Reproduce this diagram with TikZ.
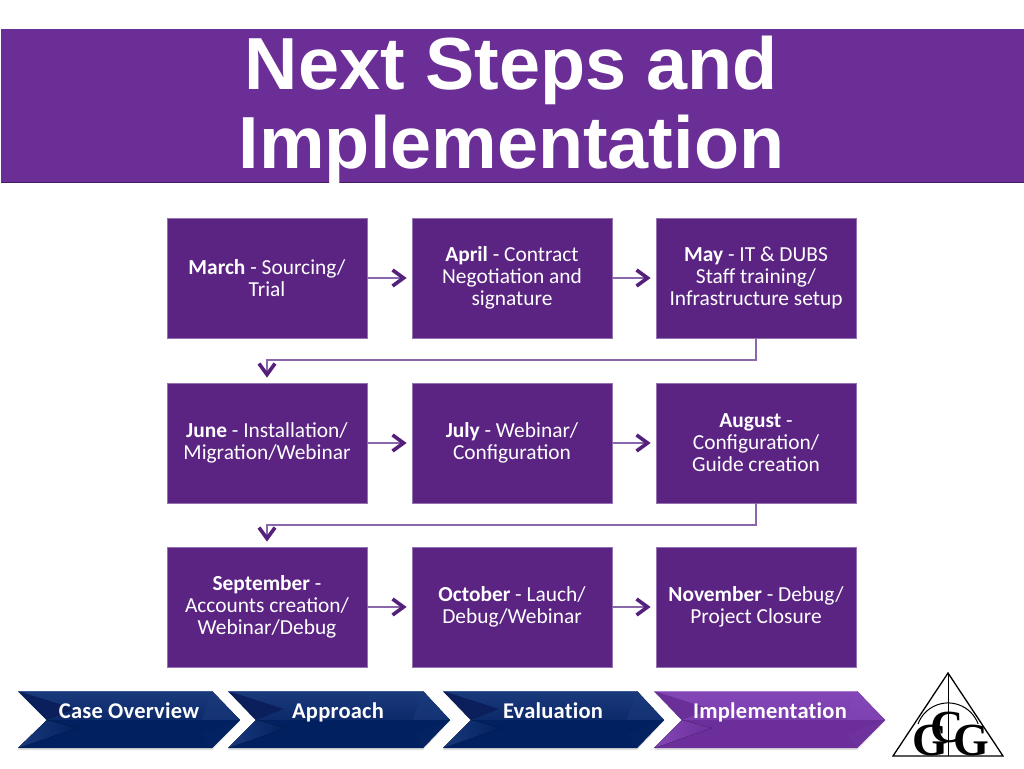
\documentclass[tikz,border=0pt]{standalone}
\usepackage{fontspec}
\setmainfont{Carlito}
\newfontfamily\titlefont{Liberation Sans}
\newfontfamily\logofont{Liberation Serif}
\newfontfamily\navfont[LetterSpace=1,Ligatures=NoCommon]{Carlito}
\usetikzlibrary{arrows.meta,calc}
\definecolor{band}{HTML}{6B2D96}
\definecolor{boxfill}{HTML}{5B2483}
\definecolor{boxline}{HTML}{9272B0}
\definecolor{linkc}{HTML}{8A66AB}
\definecolor{tipc}{HTML}{54207C}
\definecolor{navA}{HTML}{3A5A98}
\definecolor{navB}{HTML}{1B3A7C}
\definecolor{navC}{HTML}{0C2A6A}
\definecolor{navD}{HTML}{00205F}
\definecolor{navE}{HTML}{0A1F5C}
\definecolor{purA}{HTML}{A57BD0}
\definecolor{purB}{HTML}{8547B8}
\definecolor{purC}{HTML}{7A3DAC}
\definecolor{purD}{HTML}{6C2E9A}
\definecolor{purE}{HTML}{6A2F98}
\tikzset{
  x=1pt,y=-1pt,
  stepbox/.style={fill=boxfill,draw=boxline,line width=0.8pt,minimum width=200pt,minimum height=120pt,inner sep=0pt,text=white,align=center,font=\fontsize{21.4}{22}\selectfont,execute at begin node={\rule{0pt}{20pt}}},
  flow/.style={draw=linkc,line width=1.6pt,-{Straight Barb[length=11pt,width=16pt,line width=3.6pt,color=tipc]},shorten >=5pt},
  titletext/.style={align=center,font=\titlefont\bfseries\fontsize{73.8}{79}\selectfont,inner sep=0pt},
  navtext/.style={text=white,inner sep=0pt,anchor=base,font=\navfont\bfseries\fontsize{22.5}{24}\selectfont},
  logoletter/.style={inner sep=0pt,anchor=base,font=\logofont\bfseries\fontsize{46}{46}\selectfont,text=black},
}
% left, notch, top/bottom right, tip; then five colours
\newcommand\chevron[9]{%
  \fill[black!35,opacity=.35] (#1,692)--(#3,692)--(#4,721)--(#3,750)--(#1,750)--(#2,721)--cycle;
  \fill[top color=#6,bottom color=#7] (#1,691)--(#3,691)--(#4,720)--(#2,720)--cycle;
  \fill[#8] (#2,720)--(#4,720)--(#3,748)--(#1,748)--cycle;
  \fill[#9] (#1,691)--(#2,720)--($(#2,720)+(28,-11)$)--cycle;
  \fill[left color=#6,right color=#8] (#1,748)--(#2,720)--($(#2,720)+(30,8)$)--cycle;
  \fill[#6,opacity=.55] (#3,691)--(#4,720)--($(#3,720)+(-10,0)$)--cycle;
  \fill[#8!80!#7] (#3,748)--(#4,720)--($(#3,720)+(-10,14)$)--cycle;
  \draw[#5,line width=1pt] (#1,691.5)--(#3,691.5);
}
\begin{document}
\begin{tikzpicture}
\useasboundingbox (0,0) rectangle (1024,768);
\fill[white] (0,0) rectangle (1024,768);
% title band
\fill[band] (1,29) rectangle (1024,182);
\draw[black!35!band,line width=1.2pt] (1,182.5)--(1024,182.5);
\node[titletext,text=white] (title) at (511.5,110.3) {Next Steps and\\Implementation};
% steps
\node[stepbox] (mar) at (267,278) {\textbf{March} - Sourcing/\\Trial};
\node[stepbox] (apr) at (512,278) {\textbf{April} - Contract\\Negotiation and\\signature};
\node[stepbox] (may) at (756,278) {\textbf{May} - IT \& DUBS\\Staff training/\\Infrastructure setup};
\node[stepbox] (jun) at (267,443) {\textbf{June} - Installation/\\Migration/Webinar};
\node[stepbox] (jul) at (512,443) {\textbf{July} - Webinar/\\Configuration};
\node[stepbox] (aug) at (756,443) {\textbf{August} -\\Configuration/\\Guide creation};
\node[stepbox] (sep) at (267,607) {\textbf{September} -\\Accounts creation/\\Webinar/Debug};
\node[stepbox] (oct) at (512,607) {\textbf{October} - Lauch/\\Debug/Webinar};
\node[stepbox] (nov) at (756,607) {\textbf{November} - Debug/\\Project Closure};
% connectors
\draw[flow] (mar) -- (apr);
\draw[flow] (apr) -- (may);
\draw[flow] (jun) -- (jul);
\draw[flow] (jul) -- (aug);
\draw[flow] (sep) -- (oct);
\draw[flow] (oct) -- (nov);
\coordinate (bendA) at (267,360);
\coordinate (bendB) at (267,525);
\draw[flow] (may.south) |- (bendA) -- (jun.north);
\draw[flow] (aug.south) |- (bendB) -- (sep.north);
% navigation chevrons
\chevron{18}{47}{212}{240}{navA}{navB}{navC}{navD}{navE}
\chevron{228}{256}{423}{450}{navA}{navB}{navC}{navD}{navE}
\chevron{443}{471}{637}{664}{navA}{navB}{navC}{navD}{navE}
\chevron{654}{682}{857}{885}{purA}{purB}{purC}{purD}{purE}
\node[navtext] (nav1) at (129,718) {Case Overview};
\node[navtext] (nav2) at (338,718) {Approach};
\node[navtext] (nav3) at (553,718) {Evaluation};
\node[navtext] (nav4) at (770,718) {Implementation};
% logo
\draw[black,line width=1.3pt,line join=miter] (948,673)--(1003,756)--(893,756)--cycle;
\draw[black,line width=1pt] (948,673)--(948,756);
\draw[black,line width=1pt] (918,724) arc[start angle=200,end angle=340,radius=32];
\node[logoletter] (logoG) at (930,755) {G};
\node[logoletter] (logoC) at (947,742) {C};
\node[logoletter] (logoH) at (971,755) {G};
\end{tikzpicture}
\end{document}
